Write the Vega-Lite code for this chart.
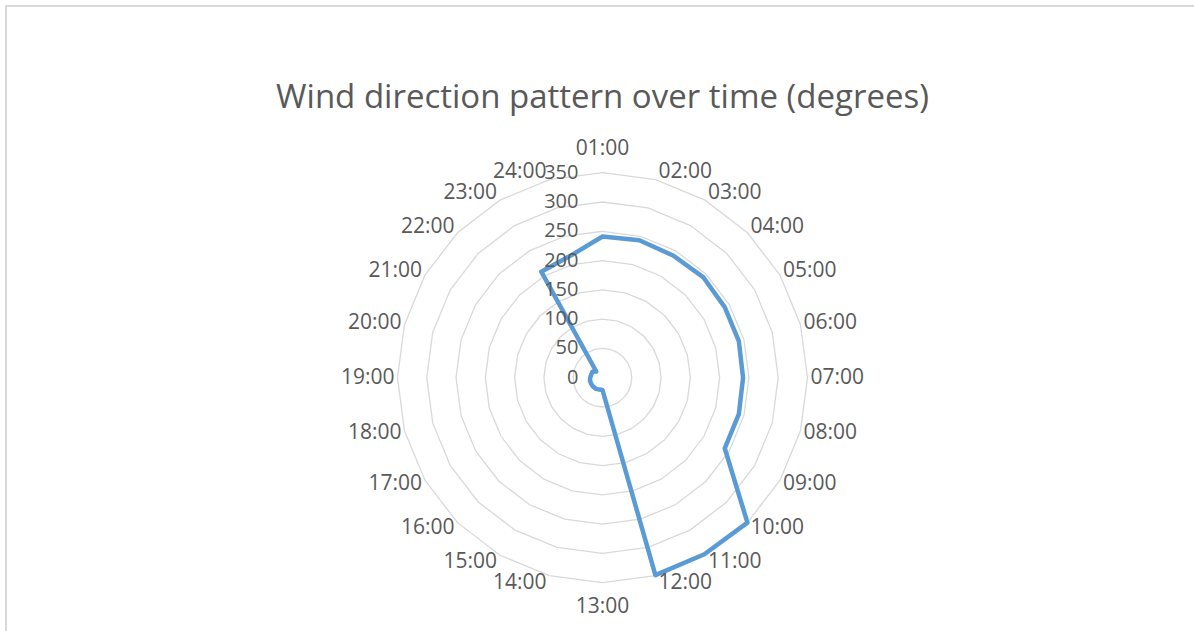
{
  "$schema": "https://vega.github.io/schema/vega-lite/v6.json",
  "width": 1200,
  "height": 700,
  "autosize": {"type": "none"},
  "padding": {"left": 6, "top": 6, "right": 0, "bottom": 0},
  "background": "white",
  "config": {"view": {"stroke": "#d9d9d9", "strokeWidth": 2}, "font": "Open Sans"},
  "title": {
    "text": "Wind direction pattern over time (degrees)",
    "font": "Open Sans",
    "fontSize": 33,
    "fontWeight": "normal",
    "color": "#595959",
    "anchor": "middle",
    "frame": "group",
    "baseline": "alphabetic",
    "offset": -135,
    "dx": -3.5
  },
  "datasets": {
    "wind": [
      {"hour": "01:00", "i": 0, "deg": 241},
      {"hour": "02:00", "i": 1, "deg": 243},
      {"hour": "03:00", "i": 2, "deg": 241},
      {"hour": "04:00", "i": 3, "deg": 243},
      {"hour": "05:00", "i": 4, "deg": 241},
      {"hour": "06:00", "i": 5, "deg": 241},
      {"hour": "07:00", "i": 6, "deg": 240},
      {"hour": "08:00", "i": 7, "deg": 241},
      {"hour": "09:00", "i": 8, "deg": 241},
      {"hour": "10:00", "i": 9, "deg": 350},
      {"hour": "11:00", "i": 10, "deg": 348},
      {"hour": "12:00", "i": 11, "deg": 349},
      {"hour": "13:00", "i": 12, "deg": 21},
      {"hour": "14:00", "i": 13, "deg": 21},
      {"hour": "15:00", "i": 14, "deg": 22},
      {"hour": "16:00", "i": 15, "deg": 22},
      {"hour": "17:00", "i": 16, "deg": 22},
      {"hour": "18:00", "i": 17, "deg": 22},
      {"hour": "19:00", "i": 18, "deg": 21},
      {"hour": "20:00", "i": 19, "deg": 20},
      {"hour": "21:00", "i": 20, "deg": 20},
      {"hour": "22:00", "i": 21, "deg": 15},
      {"hour": "23:00", "i": 22, "deg": 209},
      {"hour": "24:00", "i": 23, "deg": 215}
    ],
    "rings": [
      {"level": 50, "spoke": [0,1,2,3,4,5,6,7,8,9,10,11,12,13,14,15,16,17,18,19,20,21,22,23]},
      {"level": 100, "spoke": [0,1,2,3,4,5,6,7,8,9,10,11,12,13,14,15,16,17,18,19,20,21,22,23]},
      {"level": 150, "spoke": [0,1,2,3,4,5,6,7,8,9,10,11,12,13,14,15,16,17,18,19,20,21,22,23]},
      {"level": 200, "spoke": [0,1,2,3,4,5,6,7,8,9,10,11,12,13,14,15,16,17,18,19,20,21,22,23]},
      {"level": 250, "spoke": [0,1,2,3,4,5,6,7,8,9,10,11,12,13,14,15,16,17,18,19,20,21,22,23]},
      {"level": 300, "spoke": [0,1,2,3,4,5,6,7,8,9,10,11,12,13,14,15,16,17,18,19,20,21,22,23]},
      {"level": 350, "spoke": [0,1,2,3,4,5,6,7,8,9,10,11,12,13,14,15,16,17,18,19,20,21,22,23]}
    ],
    "ticks": [
      {"v": 0}, {"v": 50}, {"v": 100}, {"v": 150}, {"v": 200}, {"v": 250}, {"v": 300}, {"v": 350}
    ]
  },
  "layer": [
    {
      "data": {"name": "rings"},
      "transform": [
        {"flatten": ["spoke"]},
        {"calculate": "datum.spoke * PI / 12", "as": "a"},
        {"calculate": "datum.level * sin(datum.a)", "as": "px"},
        {"calculate": "datum.level * cos(datum.a)", "as": "py"}
      ],
      "mark": {"type": "line", "interpolate": "linear-closed", "stroke": "#d9d9d9", "strokeWidth": 1.3},
      "encoding": {
        "x": {"field": "px", "type": "quantitative", "scale": {"domain": [-1018.4, 1030.4], "nice": false, "zero": false}, "axis": null},
        "y": {"field": "py", "type": "quantitative", "scale": {"domain": [-560.5, 634.6], "nice": false, "zero": false}, "axis": null},
        "detail": {"field": "level", "type": "nominal"},
        "order": {"field": "spoke", "type": "quantitative"}
      }
    },
    {
      "data": {"name": "wind"},
      "transform": [
        {"calculate": "datum.i * PI / 12", "as": "a"},
        {"calculate": "datum.deg * sin(datum.a)", "as": "px"},
        {"calculate": "datum.deg * cos(datum.a)", "as": "py"}
      ],
      "mark": {"type": "line", "interpolate": "linear-closed", "stroke": "#5b9bd5", "strokeWidth": 4.5, "strokeJoin": "round"},
      "encoding": {
        "x": {"field": "px", "type": "quantitative", "scale": {"domain": [-1018.4, 1030.4], "nice": false, "zero": false}, "axis": null},
        "y": {"field": "py", "type": "quantitative", "scale": {"domain": [-560.5, 634.6], "nice": false, "zero": false}, "axis": null},
        "order": {"field": "i", "type": "quantitative"}
      }
    },
    {
      "data": {"name": "ticks"},
      "mark": {"type": "text", "align": "right", "baseline": "middle", "dx": -24, "fontSize": 20, "color": "#595959"},
      "encoding": {
        "x": {"datum": 0, "type": "quantitative", "scale": {"domain": [-1018.4, 1030.4], "nice": false, "zero": false}, "axis": null},
        "y": {"field": "v", "type": "quantitative", "scale": {"domain": [-560.5, 634.6], "nice": false, "zero": false}, "axis": null},
        "text": {"field": "v", "type": "quantitative"}
      }
    },
    {
      "data": {"name": "wind"},
      "transform": [
        {"calculate": "datum.i * PI / 12", "as": "a"},
        {"filter": "sin(datum.a) > 0.01"},
        {"calculate": "350 * sin(datum.a)", "as": "px"},
        {"calculate": "363.7 * cos(datum.a)", "as": "py"}
      ],
      "mark": {"type": "text", "align": "left", "baseline": "middle", "dx": 3, "fontSize": 21, "color": "#595959"},
      "encoding": {
        "x": {"field": "px", "type": "quantitative", "scale": {"domain": [-1018.4, 1030.4], "nice": false, "zero": false}, "axis": null},
        "y": {"field": "py", "type": "quantitative", "scale": {"domain": [-560.5, 634.6], "nice": false, "zero": false}, "axis": null},
        "text": {"field": "hour", "type": "nominal"}
      }
    },
    {
      "data": {"name": "wind"},
      "transform": [
        {"calculate": "datum.i * PI / 12", "as": "a"},
        {"filter": "sin(datum.a) < -0.01"},
        {"calculate": "350 * sin(datum.a)", "as": "px"},
        {"calculate": "363.7 * cos(datum.a)", "as": "py"}
      ],
      "mark": {"type": "text", "align": "right", "baseline": "middle", "dx": -3, "fontSize": 21, "color": "#595959"},
      "encoding": {
        "x": {"field": "px", "type": "quantitative", "scale": {"domain": [-1018.4, 1030.4], "nice": false, "zero": false}, "axis": null},
        "y": {"field": "py", "type": "quantitative", "scale": {"domain": [-560.5, 634.6], "nice": false, "zero": false}, "axis": null},
        "text": {"field": "hour", "type": "nominal"}
      }
    },
    {
      "data": {"name": "wind"},
      "transform": [
        {"calculate": "datum.i * PI / 12", "as": "a"},
        {"filter": "abs(sin(datum.a)) <= 0.01"},
        {"calculate": "0", "as": "px"},
        {"calculate": "391 * cos(datum.a)", "as": "py"}
      ],
      "mark": {"type": "text", "align": "center", "baseline": "middle", "fontSize": 21, "color": "#595959"},
      "encoding": {
        "x": {"field": "px", "type": "quantitative", "scale": {"domain": [-1018.4, 1030.4], "nice": false, "zero": false}, "axis": null},
        "y": {"field": "py", "type": "quantitative", "scale": {"domain": [-560.5, 634.6], "nice": false, "zero": false}, "axis": null},
        "text": {"field": "hour", "type": "nominal"}
      }
    }
  ]
}
